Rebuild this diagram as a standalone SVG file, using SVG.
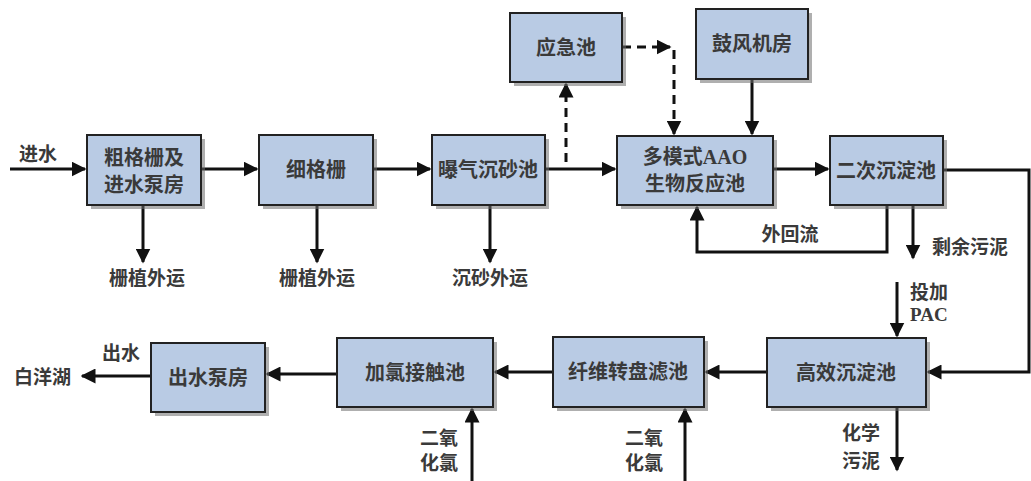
<svg xmlns="http://www.w3.org/2000/svg" width="1031" height="481" viewBox="0 0 1031 481">
<defs>
<marker id="ah" viewBox="0 0 10 10" refX="9" refY="5" markerWidth="5" markerHeight="5" orient="auto" markerUnits="strokeWidth">
<path d="M0,0 L10,5 L0,10 z" fill="#111"/>
</marker>
<style>
.box{fill:#b9cbe4;stroke:#222;stroke-width:2}
.sh{fill:#6d6d6d;opacity:0.55}
.t{font-family:"Liberation Serif","Noto Sans CJK SC",serif;font-size:20px;font-weight:bold;fill:#3a3a3a;text-anchor:middle}
.l{font-family:"Liberation Serif","Noto Sans CJK SC",serif;font-size:19px;font-weight:bold;fill:#3a3a3a}
.c{fill:none;stroke:#111;stroke-width:3}
.d{fill:none;stroke:#111;stroke-width:3;stroke-dasharray:9,6}
</style>
</defs>
<rect width="1031" height="481" fill="#fff"/>

<g id="connectors">
<path class="c" d="M10,169 H85" marker-end="url(#ah)"/>
<path class="c" d="M201,169 H257" marker-end="url(#ah)"/>
<path class="c" d="M373,169 H430" marker-end="url(#ah)"/>
<path class="c" d="M545,169 H615" marker-end="url(#ah)"/>
<path class="c" d="M773,169 H828" marker-end="url(#ah)"/>
<path class="c" d="M143,205 V262" marker-end="url(#ah)"/>
<path class="c" d="M317,205 V262" marker-end="url(#ah)"/>
<path class="c" d="M490,205 V262" marker-end="url(#ah)"/>
<path class="d" d="M566,162 V84" marker-end="url(#ah)"/>
<path class="d" d="M622,47 H670" marker-end="url(#ah)"/>
<path class="d" d="M674,50 V134" marker-end="url(#ah)"/>
<path class="c" d="M752,79 V134" marker-end="url(#ah)"/>
<path class="c" d="M887,205 V252 H697 V207" marker-end="url(#ah)"/>
<path class="c" d="M913,205 V258" marker-end="url(#ah)"/>
<path class="c" d="M943,170 H1029 V372 H928" marker-end="url(#ah)"/>
<path class="c" d="M897,282 V336" marker-end="url(#ah)"/>
<path class="c" d="M767,372 H706" marker-end="url(#ah)"/>
<path class="c" d="M553,372 H495" marker-end="url(#ah)"/>
<path class="c" d="M337,374 H267" marker-end="url(#ah)"/>
<path class="c" d="M151,376 H82" marker-end="url(#ah)"/>
<path class="c" d="M472,481 V409" marker-end="url(#ah)"/>
<path class="c" d="M685,481 V409" marker-end="url(#ah)"/>
<path class="c" d="M897,407 V470" marker-end="url(#ah)"/>
</g>

<g id="labels">
<text class="l" x="19" y="161">进水</text>
<text class="l" x="147" y="285" text-anchor="middle">栅植外运</text>
<text class="l" x="317" y="285" text-anchor="middle">栅植外运</text>
<text class="l" x="490" y="285" text-anchor="middle">沉砂外运</text>
<text class="l" x="790" y="241" text-anchor="middle">外回流</text>
<text class="l" x="932" y="254">剩余污泥</text>
<text class="l" x="910" y="299">投加</text>
<text class="l" x="910" y="321">PAC</text>
<text class="l" x="102" y="360">出水</text>
<text class="l" x="14" y="384">白洋湖</text>
<text class="l" x="458" y="445" text-anchor="end">二氧</text>
<text class="l" x="458" y="470" text-anchor="end">化氯</text>
<text class="l" x="663" y="445" text-anchor="end">二氧</text>
<text class="l" x="663" y="470" text-anchor="end">化氯</text>
<text class="l" x="880" y="440" text-anchor="end">化学</text>
<text class="l" x="880" y="468" text-anchor="end">污泥</text>
</g>

<g id="n1"><rect class="sh" x="91" y="139" width="114" height="70"/><rect class="box" x="87" y="135" width="114" height="70"/><text class="t" x="144" y="165">粗格栅及</text><text class="t" x="144" y="192">进水泵房</text></g>
<g id="n2"><rect class="sh" x="263" y="139" width="114" height="70"/><rect class="box" x="259" y="135" width="114" height="70"/><text class="t" x="316" y="177">细格栅</text></g>
<g id="n3"><rect class="sh" x="436" y="139" width="113" height="70"/><rect class="box" x="432" y="135" width="113" height="70"/><text class="t" x="488" y="177">曝气沉砂池</text></g>
<g id="n4"><rect class="sh" x="514" y="17" width="112" height="69"/><rect class="box" x="510" y="13" width="112" height="69"/><text class="t" x="566" y="55">应急池</text></g>
<g id="n5"><rect class="sh" x="700" y="13" width="112" height="70"/><rect class="box" x="696" y="9" width="112" height="70"/><text class="t" x="752" y="51">鼓风机房</text></g>
<g id="n6"><rect class="sh" x="621" y="140" width="156" height="69"/><rect class="box" x="617" y="136" width="156" height="69"/><text class="t" x="695" y="164">多模式AAO</text><text class="t" x="695" y="191">生物反应池</text></g>
<g id="n7"><rect class="sh" x="834" y="140" width="113" height="69"/><rect class="box" x="830" y="136" width="113" height="69"/><text class="t" x="886" y="178">二次沉淀池</text></g>
<g id="n8"><rect class="sh" x="771" y="342" width="159" height="69"/><rect class="box" x="767" y="338" width="159" height="69"/><text class="t" x="846" y="380">高效沉淀池</text></g>
<g id="n9"><rect class="sh" x="557" y="341" width="151" height="70"/><rect class="box" x="553" y="337" width="151" height="70"/><text class="t" x="628" y="379">纤维转盘滤池</text></g>
<g id="n10"><rect class="sh" x="341" y="342" width="156" height="69"/><rect class="box" x="337" y="338" width="156" height="69"/><text class="t" x="415" y="380">加氯接触池</text></g>
<g id="n11"><rect class="sh" x="155" y="347" width="114" height="69"/><rect class="box" x="151" y="343" width="114" height="69"/><text class="t" x="208" y="385">出水泵房</text></g>
</svg>
